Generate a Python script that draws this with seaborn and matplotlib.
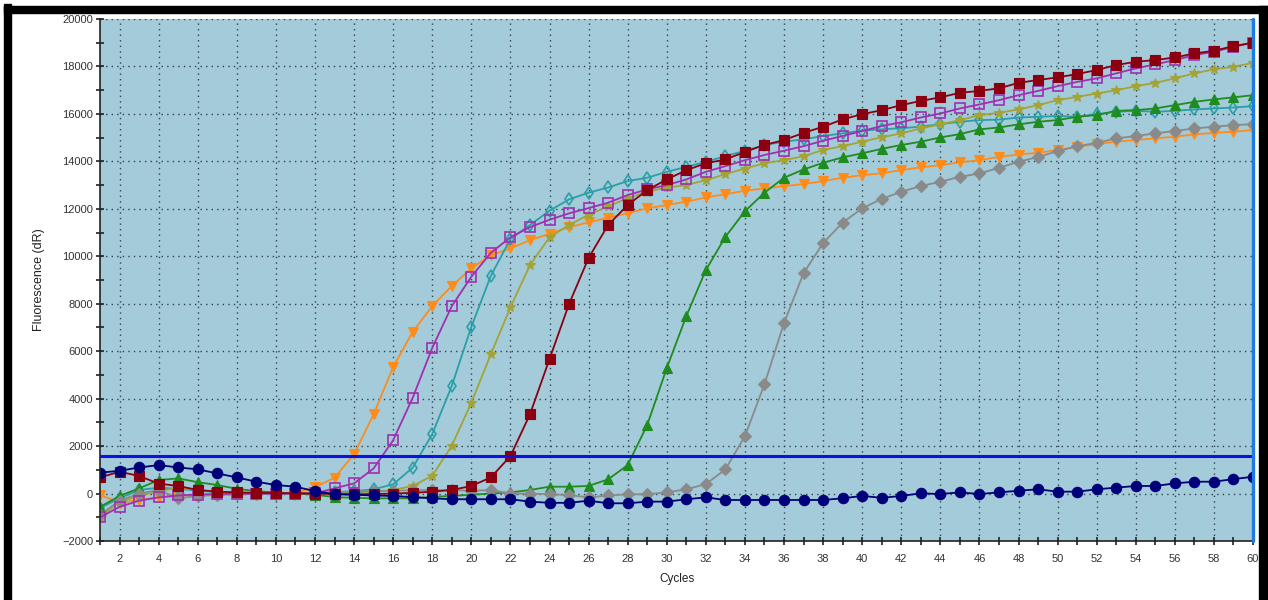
import numpy as np
import pandas as pd
import matplotlib
matplotlib.use("Agg")
import matplotlib.pyplot as plt
from matplotlib.patches import Rectangle
from matplotlib.ticker import MultipleLocator
import seaborn as sns

sns.set_theme(style="ticks")
plt.rcParams['font.family'] = ['Liberation Sans', 'DejaVu Sans']

cycles = list(range(1, 61))

orange_tri = [-50, -390, -270, -160, -100, -60, -20, -20, -10, 0,
              30, 260, 670, 1660, 3340, 5340, 6820, 7900, 8750, 9490,
              10050, 10330, 10680, 10950, 11230, 11430, 11630, 11810, 12020, 12160,
              12300, 12480, 12620, 12760, 12860, 12960, 13040, 13170, 13310, 13420,
              13500, 13630, 13750, 13840, 13960, 14050, 14190, 14290, 14360, 14480,
              14610, 14730, 14830, 14900, 14970, 15040, 15140, 15200, 15250, 15320]

purple_sq = [-1000, -560, -300, -160, -80, -40, -20, -10, 0, 0,
             0, 10, 220, 430, 1060, 2250, 4040, 6140, 7900, 9140,
             10150, 10800, 11230, 11540, 11810, 12030, 12260, 12580, 12820, 13000,
             13240, 13560, 13800, 14050, 14270, 14450, 14640, 14870, 15070, 15280,
             15490, 15650, 15850, 16020, 16230, 16400, 16580, 16790, 16970, 17170,
             17350, 17500, 17710, 17920, 18090, 18270, 18480, 18620, 18830, 19000]

teal_dia = [-600, -200, 150, 250, 200, 120, 60, 30, 10, 0,
            0, 20, 60, 100, 180, 390, 1090, 2510, 4540, 7030,
            9180, 10730, 11320, 11920, 12400, 12680, 12900, 13170, 13310, 13560,
            13770, 13980, 14220, 14450, 14690, 14830, 14930, 15070, 15180, 15300,
            15350, 15400, 15460, 15570, 15670, 15740, 15760, 15850, 15880, 15910,
            15880, 15990, 16090, 16130, 16090, 16130, 16190, 16230, 16270, 16330]

olive_star = [-1000, -350, -100, 100, 250, 150, 80, 40, 20, 0,
              0, 0, 20, 50, 80, 150, 320, 750, 2020, 3830,
              5880, 7850, 9630, 10800, 11320, 11750, 12100, 12450, 12720, 12900,
              13000, 13210, 13460, 13700, 13920, 14050, 14220, 14480, 14640, 14830,
              15020, 15180, 15390, 15560, 15740, 15950, 16050, 16190, 16370, 16580,
              16720, 16860, 17000, 17170, 17310, 17500, 17710, 17880, 17990, 18150]

maroon_sq = [680, 920, 740, 420, 320, 150, 80, 50, 30, 20,
             10, 0, -20, -30, -20, 0, 30, 80, 150, 320,
             680, 1580, 3340, 5670, 7990, 9930, 11320, 12160, 12790, 13240,
             13630, 13920, 14080, 14400, 14690, 14900, 15200, 15460, 15770, 15990,
             16160, 16370, 16550, 16700, 16890, 16970, 17080, 17310, 17430, 17540,
             17680, 17850, 18060, 18200, 18270, 18380, 18550, 18660, 18860, 19000]

green_tri = [-560, -100, 220, 570, 640, 480, 360, 200, 100, 50,
             0, -50, -150, -180, -200, -200, -200, -140, -100, -50,
             0, 50, 150, 290, 290, 320, 600, 1200, 2890, 5290,
             7480, 9420, 10820, 11900, 12680, 13310, 13660, 13940, 14170, 14340,
             14530, 14690, 14830, 15010, 15150, 15350, 15430, 15560, 15670, 15740,
             15880, 15950, 16130, 16160, 16230, 16370, 16510, 16610, 16700, 16790]

gray_dia = [-900, -300, 0, 150, -200, -100, -60, -30, -20, 0,
            20, 40, 60, 80, 100, 120, 140, 150, 150, 120,
            150, 0, 0, -30, -60, -160, -80, -30, -30, 50,
            180, 400, 1020, 2420, 4610, 7190, 9290, 10560, 11420, 12020,
            12420, 12720, 12960, 13140, 13350, 13490, 13730, 13980, 14190, 14430,
            14640, 14780, 14970, 15070, 15180, 15280, 15390, 15460, 15530, 15570]

navy_circ = [880, 960, 1100, 1200, 1100, 1020, 850, 680, 500, 360,
             290, 100, -30, -50, -80, -100, -150, -200, -240, -240,
             -240, -240, -340, -390, -390, -300, -410, -410, -340, -340,
             -240, -160, -270, -270, -270, -270, -270, -270, -200, -100,
             -180, -100, 10, -20, 50, -20, 50, 120, 180, 80,
             80, 180, 250, 320, 320, 430, 500, 500, 610, 710]

threshold = 1600

# name: (values, color, marker, size, filled)
series = [
    ("orange", orange_tri, "#ff8c1a", "v", 7.5, True),
    ("teal", teal_dia, "#2a9fa8", "d", 6, False),
    ("olive", olive_star, "#a3a336", "*", 7.5, True),
    ("green", green_tri, "#1e8c1e", "^", 7.5, True),
    ("gray", gray_dia, "#8a8a8a", "D", 6, True),
    ("purple", purple_sq, "#a030b0", "s", 7, False),
    ("maroon", maroon_sq, "#8b0010", "s", 7, True),
    ("navy", navy_circ, "#00007a", "o", 7.5, True),
]

fig = plt.figure(figsize=(12.68, 6), dpi=100)
fig.patch.set_facecolor("white")
ax = fig.add_axes([0.0789, 0.0983, 0.9093, 0.8700])
ax.set_facecolor("#a3cbd9")

for name, vals, col, mk, ms, filled in series:
    sns.lineplot(x=cycles, y=vals, ax=ax, color=col, marker=mk, markersize=ms,
                 markerfacecolor=col if filled else "none",
                 markeredgecolor=col, markeredgewidth=1.2 if not filled else 0.8,
                 linewidth=1.3, legend=False)

ax.axhline(threshold, color="#1010e0", linewidth=2.2, zorder=5)
ax.axvline(60, color="#1e7be0", linewidth=2.4, zorder=5, clip_on=False)

ax.set_xlim(1, 60)
ax.set_ylim(-2000, 20000)
ax.xaxis.set_major_locator(MultipleLocator(2))
ax.xaxis.set_minor_locator(MultipleLocator(1))
ax.yaxis.set_major_locator(MultipleLocator(2000))
ax.yaxis.set_minor_locator(MultipleLocator(1000))
ax.grid(True, which="major", color="#33424d", linestyle=(0, (1, 3)), linewidth=1.0)
ax.tick_params(which="both", direction="inout", length=6, width=1.2, color="#222222",
               labelsize=8, labelcolor="#333333")
ax.tick_params(axis="x", pad=6)
ax.tick_params(axis="y", pad=2)

for s in ["top", "right"]:
    ax.spines[s].set_visible(False)
for s in ["left", "bottom"]:
    ax.spines[s].set_color("#222222")
    ax.spines[s].set_linewidth(1.2)

ax.set_xlabel("Cycles", fontsize=8.5, color="#222222")
ax.set_ylabel("Fluorescence (dR)", fontsize=9, color="#222222")
ax.xaxis.set_label_coords(0.5, -0.062)
ax.yaxis.set_label_coords(-0.048, 0.5)

# black frame of the screenshot
W, H = 1268, 600
fig.patches.append(Rectangle((4 / W, 0), 7 / W, 1 - 4 / H, transform=fig.transFigure,
                             color="black", zorder=10))
fig.patches.append(Rectangle((4 / W, 1 - 13 / H), 1, 7 / H, transform=fig.transFigure,
                             color="black", zorder=10))
fig.patches.append(Rectangle((1259 / W, 0), 9 / W, 1 - 6 / H, transform=fig.transFigure,
                             color="black", zorder=10))

fig.savefig("out.png", dpi=100, facecolor="white")
